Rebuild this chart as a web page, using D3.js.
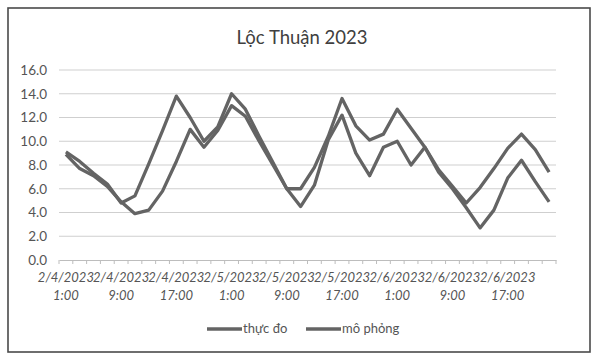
<!DOCTYPE html>
<html>
<head>
<meta charset="utf-8">
<script src="https://cdn.jsdelivr.net/npm/d3@7"></script>
<style>
  html, body { margin: 0; padding: 0; background: #fff; }
  svg { display: block; }
</style>
</head>
<body>
<svg id="chart" width="593" height="354"></svg>
<script>
const title = "Lộc Thuận 2023";
const categories = [
  "2/4/2023 1:00","2/4/2023 3:00","2/4/2023 5:00","2/4/2023 7:00",
  "2/4/2023 9:00","2/4/2023 11:00","2/4/2023 13:00","2/4/2023 15:00",
  "2/4/2023 17:00","2/4/2023 19:00","2/4/2023 21:00","2/4/2023 23:00",
  "2/5/2023 1:00","2/5/2023 3:00","2/5/2023 5:00","2/5/2023 7:00",
  "2/5/2023 9:00","2/5/2023 11:00","2/5/2023 13:00","2/5/2023 15:00",
  "2/5/2023 17:00","2/5/2023 19:00","2/5/2023 21:00","2/5/2023 23:00",
  "2/6/2023 1:00","2/6/2023 3:00","2/6/2023 5:00","2/6/2023 7:00",
  "2/6/2023 9:00","2/6/2023 11:00","2/6/2023 13:00","2/6/2023 15:00",
  "2/6/2023 17:00","2/6/2023 19:00","2/6/2023 21:00","2/6/2023 23:00"
];
const thucDo = [9.1, 8.3, 7.3, 6.4, 4.8, 5.4, 8.1, 10.9, 13.8, 12.0, 10.0, 11.2,
                14.0, 12.7, 10.4, 8.2, 6.0, 6.0, 7.8, 10.4, 13.6, 11.3, 10.1, 10.6,
                12.7, 11.1, 9.5, 7.6, 6.2, 4.8, 6.1, 7.7, 9.4, 10.6, 9.3, 7.4];
const moPhong = [8.9, 7.7, 7.1, 6.2, 4.9, 3.9, 4.2, 5.8, 8.3, 11.0, 9.5, 10.9,
                 13.0, 12.1, 10.0, 8.0, 6.0, 4.5, 6.3, 10.1, 12.2, 9.0, 7.1, 9.5,
                 10.0, 8.0, 9.5, 7.4, 6.0, 4.4, 2.7, 4.2, 6.9, 8.4, 6.6, 4.9];
const seriesNames = ["thực đo", "mô phỏng"];
const yTicks = [0, 2, 4, 6, 8, 10, 12, 14, 16];

const svg = d3.select("#chart");
const W = 593, H = 354;
const plot = { left: 59, right: 556, top: 70, bottom: 260 };
const lineColor = "#646464";
const textColor = "#555555";
const font = "Lato, 'Open Sans', sans-serif";

svg.append("rect").attr("x", 0).attr("y", 0).attr("width", W).attr("height", H).attr("fill", "#fff");
svg.append("rect").attr("x", 8).attr("y", 8).attr("width", 582).attr("height", 344)
  .attr("fill", "#fff").attr("stroke", "#4a4a4a").attr("stroke-width", 1.6);

const x = d3.scaleBand().domain(categories).range([plot.left, plot.right]).padding(0);
const y = d3.scaleLinear().domain([0, 16]).range([plot.bottom, plot.top]);
const cx = c => x(c) + x.bandwidth() / 2;

// title
svg.append("text").attr("x", 302).attr("y", 44).attr("text-anchor", "middle")
  .attr("font-family", font).attr("font-size", 18.5).attr("fill", "#404040").text(title);

// gridlines
svg.append("g").selectAll("line").data(yTicks.filter(t => t > 0)).join("line")
  .attr("x1", plot.left).attr("x2", plot.right)
  .attr("y1", d => y(d)).attr("y2", d => y(d))
  .attr("stroke", "#cfcfcf").attr("stroke-width", 1.2);

// y axis labels
const yAxis = d3.axisLeft(y).tickValues(yTicks).tickFormat(d3.format(".1f")).tickSize(0).tickPadding(12);
const gy = svg.append("g").attr("transform", `translate(${plot.left},0)`).call(yAxis);
gy.select(".domain").remove();
gy.selectAll("text").attr("font-family", font).attr("font-size", 13.5).attr("fill", textColor);

// x axis
const xAxis = d3.axisBottom(x).tickSize(0).tickFormat("");
const gx = svg.append("g").attr("transform", `translate(0,${plot.bottom})`).call(xAxis);
gx.select(".domain").attr("stroke", "#bdbdbd").attr("stroke-width", 1.2);
// category boundary ticks
const bounds = categories.map(c => x(c)).concat([plot.right]);
gx.append("g").selectAll("line").data(bounds).join("line")
  .attr("x1", d => d).attr("x2", d => d).attr("y1", 0).attr("y2", 4)
  .attr("stroke", "#bdbdbd").attr("stroke-width", 1);
// labels every 4th category
const labelCats = categories.filter((c, i) => i % 4 === 0);
const lbl = gx.append("g").selectAll("text").data(labelCats).join("text")
  .attr("x", d => cx(d)).attr("text-anchor", "middle")
  .attr("font-family", font).attr("font-size", 13).attr("font-style", "italic").attr("fill", textColor);
lbl.append("tspan").attr("x", d => cx(d)).attr("y", 22).text(d => d.split(" ")[0]);
lbl.append("tspan").attr("x", d => cx(d)).attr("y", 40).text(d => d.split(" ")[1]);

// lines
const line = d3.line().x((d, i) => cx(categories[i])).y(d => y(d));
[thucDo, moPhong].forEach(s => {
  svg.append("path").datum(s).attr("d", line).attr("fill", "none")
    .attr("stroke", lineColor).attr("stroke-width", 3.3).attr("stroke-linejoin", "round");
});

// legend
const legendItems = [{ name: seriesNames[0], x: 207 }, { name: seriesNames[1], x: 306 }];
const lg = svg.append("g").selectAll("g").data(legendItems).join("g")
  .attr("transform", d => `translate(${d.x},329)`);
lg.append("line").attr("x1", 0).attr("x2", 35).attr("y1", 0).attr("y2", 0)
  .attr("stroke", lineColor).attr("stroke-width", 3.3);
lg.append("text").attr("x", 36).attr("y", 4).attr("font-family", font).attr("font-size", 13)
  .attr("fill", textColor).text(d => d.name);
</script>
</body>
</html>
